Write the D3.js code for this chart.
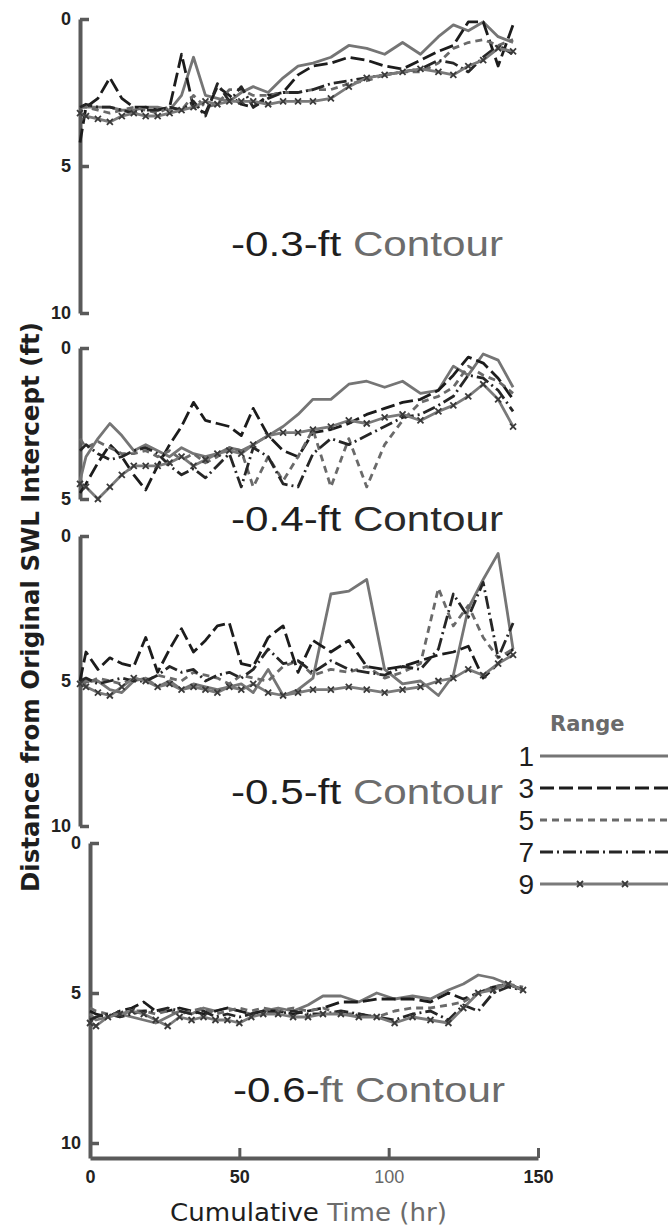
<!DOCTYPE html>
<html>
<head>
<meta charset="utf-8">
<script src="https://cdn.jsdelivr.net/npm/d3@7"></script>
<style>
  body { margin: 0; background: #fff; }
  svg { display: block; }
</style>
</head>
<body>
<svg id="chart"></svg>
<script>
const width = 670, height = 1227;

// cumulative time (hr) of each survey
const times = [0, 2, 6, 10, 14, 18, 22, 26, 30, 34, 38, 42, 46, 50, 54, 58, 63, 68, 73, 78, 84, 90, 96, 102, 108, 114, 120, 125, 130, 135, 140, 145];

// -0.3-ft contour, distance (ft) per range
const c03_r1 = [3.0, 3.0, 3.0, 3.0, 3.1, 3.1, 3.0, 3.0, 3.1, 2.6, 1.3, 2.6, 2.7, 2.8, 2.5, 2.3, 2.5, 2.0, 1.6, 1.5, 1.3, 0.9, 1.0, 1.2, 0.8, 1.2, 0.6, 0.2, 0.4, 0.1, 0.6, 0.8];
const c03_r3 = [4.2, 3.0, 2.7, 2.0, 2.7, 3.0, 3.0, 3.1, 3.0, 1.2, 3.0, 3.2, 2.3, 2.6, 2.9, 3.0, 2.6, 2.5, 1.9, 1.6, 1.5, 1.3, 1.4, 1.6, 1.7, 1.4, 1.1, 0.9, 0.1, 0.1, 1.6, 0.2];
const c03_r5 = [3.0, 3.0, 3.1, 3.2, 3.1, 3.0, 3.1, 3.2, 3.0, 3.1, 2.6, 3.0, 2.9, 2.4, 2.4, 2.6, 2.6, 2.5, 2.5, 2.4, 2.4, 2.2, 2.1, 1.9, 1.8, 1.8, 1.5, 1.0, 0.8, 0.7, 0.9, 0.7];
const c03_r7 = [3.0, 2.9, 3.0, 3.0, 3.1, 3.2, 3.1, 3.1, 3.0, 3.1, 2.8, 3.3, 2.2, 2.8, 2.3, 3.0, 2.7, 2.5, 2.5, 2.4, 2.2, 2.1, 2.0, 1.9, 1.8, 1.7, 1.4, 1.5, 1.8, 1.3, 0.9, 1.2];
const c03_r9 = [3.2, 3.3, 3.4, 3.5, 3.3, 3.2, 3.3, 3.3, 3.2, 3.1, 3.0, 2.8, 2.9, 2.8, 2.8, 2.8, 2.9, 2.8, 2.8, 2.8, 2.7, 2.3, 2.0, 1.9, 1.8, 1.7, 1.8, 1.9, 1.6, 1.4, 1.0, 1.1];

// -0.4-ft contour
const c04_r1 = [4.4, 3.6, 3.0, 2.5, 2.9, 3.4, 3.2, 3.4, 3.6, 3.3, 3.5, 3.6, 3.5, 3.3, 3.4, 3.2, 2.9, 2.6, 2.2, 1.7, 1.7, 1.2, 1.1, 1.3, 1.1, 1.5, 1.4, 0.6, 0.9, 0.2, 0.4, 1.3];
const c04_r3 = [4.8, 4.5, 3.8, 3.2, 3.6, 4.2, 4.7, 3.9, 3.2, 2.6, 1.8, 2.4, 2.5, 2.6, 2.9, 2.0, 2.9, 3.4, 3.6, 2.8, 2.7, 2.5, 2.2, 2.0, 1.8, 1.7, 1.4, 0.9, 0.3, 0.5, 1.0, 1.7];
const c04_r5 = [3.0, 3.3, 3.1, 3.3, 3.5, 3.5, 3.4, 3.6, 3.4, 3.7, 3.5, 3.8, 3.6, 3.3, 3.4, 4.6, 3.6, 4.4, 3.6, 2.7, 4.6, 3.0, 4.6, 3.2, 2.4, 1.8, 1.6, 1.3, 0.6, 0.9, 1.1, 1.5];
const c04_r7 = [3.4, 3.2, 3.5, 3.7, 3.6, 3.4, 3.3, 3.5, 3.9, 4.2, 4.0, 4.3, 3.9, 3.5, 4.6, 3.3, 3.6, 4.5, 4.6, 3.5, 3.0, 3.2, 2.9, 2.6, 2.3, 2.2, 1.9, 1.6, 0.9, 1.0, 1.4, 2.1];
const c04_r9 = [4.5, 4.6, 5.0, 4.6, 4.2, 3.9, 3.9, 3.9, 3.8, 3.6, 3.9, 3.7, 3.5, 3.4, 3.5, 3.2, 2.9, 2.8, 2.8, 2.7, 2.6, 2.4, 2.5, 2.3, 2.2, 2.4, 2.1, 1.9, 1.6, 1.2, 1.7, 2.6];

// -0.5-ft contour
const c05_r1 = [5.1, 5.0, 5.0, 5.3, 5.4, 5.0, 4.9, 5.2, 5.0, 5.3, 5.1, 5.2, 5.3, 5.2, 5.1, 5.4, 4.6, 5.5, 5.3, 4.9, 2.0, 1.9, 1.5, 4.6, 5.1, 5.0, 5.5, 4.8, 2.5, 1.5, 0.6, 3.9];
const c05_r3 = [5.0, 4.0, 4.6, 4.2, 4.4, 4.5, 3.5, 4.7, 3.9, 3.2, 4.0, 3.6, 3.1, 3.0, 4.4, 4.5, 3.5, 3.1, 4.7, 3.6, 4.0, 3.6, 4.5, 4.6, 4.5, 4.3, 4.1, 4.0, 3.8, 4.9, 4.4, 3.9];
const c05_r5 = [5.0, 5.1, 4.9, 5.0, 5.1, 4.9, 5.0, 4.8, 4.9, 5.0, 4.7, 4.8, 4.9, 5.1, 4.8, 4.9, 5.0, 4.5, 4.3, 4.8, 4.6, 4.7, 4.5, 4.9, 4.7, 4.4, 1.8, 3.1, 2.4, 3.5, 4.2, 3.9];
const c05_r7 = [5.0, 4.9, 5.1, 5.0, 4.9, 5.0, 5.0, 4.8, 4.5, 4.7, 4.6, 5.0, 4.8, 4.7, 4.9, 4.6, 3.9, 4.4, 4.3, 4.7, 4.3, 4.6, 4.7, 4.8, 4.5, 4.6, 3.9, 2.0, 2.8, 1.6, 4.2, 3.0];
const c05_r9 = [5.1, 5.2, 5.4, 5.5, 5.2, 4.9, 5.0, 5.2, 5.1, 5.3, 5.2, 5.3, 5.4, 5.2, 5.3, 5.1, 5.4, 5.5, 5.4, 5.3, 5.3, 5.2, 5.3, 5.4, 5.3, 5.2, 5.0, 4.9, 4.6, 4.8, 4.4, 4.1];

// -0.6-ft contour
const c06_r1 = [5.7, 5.9, 5.8, 5.7, 5.8, 5.9, 6.0, 5.8, 5.6, 5.7, 5.5, 5.6, 5.5, 5.6, 5.7, 5.6, 5.5, 5.6, 5.4, 5.1, 5.1, 5.3, 5.0, 5.2, 5.1, 5.2, 4.9, 4.7, 4.4, 4.5, 4.7, 4.9];
const c06_r3 = [5.6, 5.7, 5.8, 5.6, 5.5, 5.3, 5.6, 5.6, 5.5, 5.6, 5.7, 5.6, 5.5, 5.6, 5.7, 5.6, 5.6, 5.7, 5.6, 5.5, 5.3, 5.3, 5.2, 5.2, 5.2, 5.3, 5.0, 5.2, 5.0, 4.8, 4.7, 4.9];
const c06_r5 = [5.5, 5.6, 5.7, 5.7, 5.6, 5.6, 5.7, 5.6, 5.7, 5.6, 5.5, 5.7, 5.6, 5.5, 5.6, 5.5, 5.6, 5.5, 5.6, 5.5, 5.7, 5.7, 5.8, 5.6, 5.5, 5.5, 5.4, 5.3, 5.0, 4.8, 4.7, 4.8];
const c06_r7 = [5.9, 5.8, 5.7, 5.8, 5.7, 5.6, 5.6, 5.5, 5.6, 5.7, 5.6, 5.8, 5.7, 5.8, 5.7, 5.6, 5.7, 5.6, 5.7, 5.7, 5.6, 5.7, 5.8, 5.9, 5.7, 5.6, 5.9, 5.4, 5.6, 5.0, 4.8, 4.9];
const c06_r9 = [6.0, 6.1, 5.8, 5.7, 5.6, 5.7, 5.9, 6.1, 5.8, 5.9, 5.8, 5.9, 5.9, 6.0, 5.8, 5.7, 5.7, 5.8, 5.8, 5.7, 5.7, 5.8, 5.8, 6.0, 5.8, 5.9, 6.0, 5.5, 5.0, 4.9, 4.7, 4.9];

const ranges = ["1", "3", "5", "7", "9"];
const xTicks = [0, 50, 100, 150];

// line look for each range
const rangeStyle = {
  "1": { stroke: "#757575", dash: null, marks: false },
  "3": { stroke: "#1c1c1c", dash: "14,5", marks: false },
  "5": { stroke: "#6a6a6a", dash: "7,5", marks: false },
  "7": { stroke: "#262626", dash: "13,4,2,4", marks: false },
  "9": { stroke: "#7a7a7a", dash: null, marks: true }
};

const panels = [
  { num: "-0.3-ft ", word: "Contour", series: [c03_r1, c03_r3, c03_r5, c03_r7, c03_r9],
    left: 80, top: 19, bottom: 313, max: 10, yTicks: [0, 5, 10], labelX: 231, labelY: 256 },
  { num: "-0.4-ft ", word: "Contour", series: [c04_r1, c04_r3, c04_r5, c04_r7, c04_r9],
    left: 80, top: 348, bottom: 499, max: 5, yTicks: [0, 5], labelX: 231, labelY: 531 },
  { num: "-0.5-ft ", word: "Contour", series: [c05_r1, c05_r3, c05_r5, c05_r7, c05_r9],
    left: 80, top: 536, bottom: 826, max: 10, yTicks: [0, 5, 10], labelX: 231, labelY: 804 },
  { num: "-0.6-", word: "ft Contour", series: [c06_r1, c06_r3, c06_r5, c06_r7, c06_r9],
    left: 90, top: 843, bottom: 1158, max: 10.5, yTicks: [0, 5, 10], labelX: 233, labelY: 1102 }
];

const svg = d3.select("#chart")
  .attr("width", width)
  .attr("height", height)
  .style("font-family", "'DejaVu Sans', sans-serif");

const axisColor = "#5a5a5a";

panels.forEach((p, pi) => {
  const x = d3.scaleLinear().domain([0, 150]).range([p.left, p.left + 448]);
  const y = d3.scaleLinear().domain([0, p.max]).range([p.top, p.bottom]);

  // y axis, ticks pointing inward
  const ya = svg.append("g")
    .attr("transform", `translate(${p.left},0)`)
    .call(d3.axisLeft(y).tickValues(p.yTicks).tickFormat(d3.format("d"))
      .tickSizeInner(-9).tickSizeOuter(0).tickPadding(9));
  ya.select(".domain").attr("stroke", axisColor).attr("stroke-width", 4);
  ya.selectAll(".tick line").attr("stroke", axisColor).attr("stroke-width", 3.5);
  ya.selectAll(".tick text")
    .attr("fill", "#222").attr("font-size", 18).attr("font-weight", "bold");

  // one line per range
  p.series.forEach((vals, si) => {
    const st = rangeStyle[ranges[si]];
    const line = d3.line()
      .x((d, i) => x(times[i]))
      .y(d => y(d));
    svg.append("path")
      .datum(vals)
      .attr("fill", "none")
      .attr("stroke", st.stroke)
      .attr("stroke-width", 2.8)
      .attr("stroke-linejoin", "round")
      .attr("stroke-dasharray", st.dash)
      .attr("d", line);
    if (st.marks) {
      svg.append("g").selectAll("path")
        .data(vals)
        .enter().append("path")
        .attr("transform", (d, i) => `translate(${x(times[i])},${y(d)})`)
        .attr("d", "M-3,-3L3,3M-3,3L3,-3")
        .attr("stroke", "#3a3a3a")
        .attr("stroke-width", 1.8);
    }
  });

  // contour label
  const lab = svg.append("text")
    .attr("x", p.labelX)
    .attr("y", p.labelY)
    .attr("font-family", "'Liberation Sans', sans-serif")
    .attr("font-size", 35)
    .attr("textLength", 272)
    .attr("lengthAdjust", "spacingAndGlyphs");
  lab.append("tspan").attr("fill", "#1e1e1e").text(p.num);
  lab.append("tspan").attr("fill", pi === 1 ? "#2a2a2a" : "#6c6c6c").text(p.word);

  // time axis on the bottom panel
  if (pi === 3) {
    const xa = svg.append("g")
      .attr("transform", `translate(0,${p.bottom})`)
      .call(d3.axisBottom(x).tickValues(xTicks).tickFormat(d3.format("d"))
        .tickSizeInner(-10).tickSizeOuter(0).tickPadding(12));
    xa.select(".domain").attr("stroke", axisColor).attr("stroke-width", 4);
    xa.selectAll(".tick line").attr("stroke", axisColor).attr("stroke-width", 3);
    xa.selectAll(".tick text")
      .attr("fill", d => d === 100 ? "#666" : "#222")
      .attr("font-size", 18)
      .attr("font-weight", d => d === 100 ? "normal" : "bold");

    const xt = svg.append("text")
      .attr("x", 170)
      .attr("y", 1221)
      .attr("font-size", 25)
      .attr("textLength", 277)
      .attr("lengthAdjust", "spacingAndGlyphs");
    xt.append("tspan").attr("fill", "#1e1e1e").text("Cumulative ");
    xt.append("tspan").attr("fill", "#6c6c6c").text("Time (hr)");
  }
});

// y axis title
svg.append("text")
  .attr("transform", "translate(39,607) rotate(-90)")
  .attr("text-anchor", "middle")
  .attr("font-size", 25)
  .attr("font-weight", "bold")
  .attr("fill", "#1e1e1e")
  .attr("textLength", 570)
  .attr("lengthAdjust", "spacingAndGlyphs")
  .text("Distance from Original SWL Intercept (ft)");

// legend
const legY = d3.scalePoint().domain(ranges).range([756, 884]);
svg.append("text")
  .attr("x", 550).attr("y", 731)
  .attr("font-size", 21).attr("font-weight", "bold")
  .attr("fill", "#6a6a6a")
  .text("Range");

const leg = svg.append("g").selectAll("g")
  .data(ranges)
  .enter().append("g");
leg.append("text")
  .attr("x", 534)
  .attr("y", d => legY(d))
  .attr("dy", "0.36em")
  .attr("text-anchor", "end")
  .attr("font-family", "'Liberation Sans', sans-serif")
  .attr("font-size", 28)
  .attr("fill", "#1e1e1e")
  .text(d => d);
leg.append("line")
  .attr("x1", 540).attr("x2", 668)
  .attr("y1", d => legY(d)).attr("y2", d => legY(d))
  .attr("stroke", d => rangeStyle[d].stroke)
  .attr("stroke-width", 2.8)
  .attr("stroke-dasharray", d => rangeStyle[d].dash);
leg.filter(d => rangeStyle[d].marks)
  .selectAll("path")
  .data([580, 625])
  .enter().append("path")
  .attr("transform", function(d) {
    const r = d3.select(this.parentNode).datum();
    return `translate(${d},${legY(r)})`;
  })
  .attr("d", "M-3,-3L3,3M-3,3L3,-3")
  .attr("stroke", "#3a3a3a")
  .attr("stroke-width", 1.8);
</script>
</body>
</html>
